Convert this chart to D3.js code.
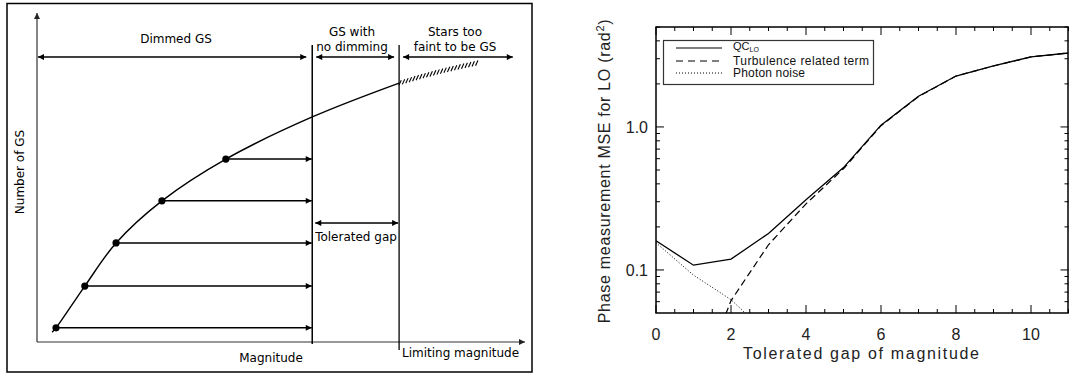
<!DOCTYPE html>
<html><head><meta charset="utf-8">
<script src="https://cdn.jsdelivr.net/npm/d3@7"></script>
<style>html,body{margin:0;padding:0;background:#fff;} svg{display:block;}</style>
</head><body>
<svg id="c" width="1069" height="374"></svg>
<script>
// ---------- Left schematic data (arbitrary units) ----------
const curveMag   = [3.1, 3.9, 9.8, 16.2, 25.6, 38.7, 56.4, 74.2];
const curveNum   = [3.0, 4.3, 17.0, 30.1, 42.9, 55.6, 68.4, 78.7];
const faintMag   = [74.2, 82, 90.2];
const faintNum   = [78.7, 82.0, 84.8];
const dotMag     = [3.9, 9.8, 16.2, 25.6, 38.7];
const dotNum     = [4.3, 17.0, 30.1, 42.9, 55.6];
const dimLimit   = 56.4;   // end of dimmed GS region
const limitMag   = 74.2;   // limiting magnitude
const regionLevel = 86.6;
const gapLevel    = 36.2;

// ---------- Right chart data ----------
const gapValues   = [0, 1, 2, 3, 4, 5, 6, 7, 8, 9, 10, 11];
const qcLO        = [0.16, 0.108, 0.119, 0.18, 0.31, 0.52, 1.03, 1.64, 2.27, 2.67, 3.09, 3.29];
const turbulence  = [0.003, 0.013, 0.061, 0.15, 0.29, 0.51, 1.02, 1.63, 2.27, 2.67, 3.09, 3.29];
const photonNoise = [0.155, 0.092, 0.062, 0.035, 0.02, 0.011, 0.006, 0.0035, 0.002, 0.0012, 0.0007, 0.0004];
const xTickLabels = ["0", "2", "4", "6", "8", "10"];
const yTickLabels = ["0.1", "1.0"];
const seriesNames = ["QC", "Turbulence related term", "Photon noise"];

const svg = d3.select("#c");
svg.append("rect").attr("width",1069).attr("height",374).attr("fill","#fff");
const defs = svg.append("defs");
defs.append("marker").attr("id","ah").attr("viewBox","0 0 10 10").attr("refX",10).attr("refY",5)
  .attr("markerWidth",7).attr("markerHeight",6).attr("markerUnits","userSpaceOnUse").attr("orient","auto-start-reverse")
  .append("path").attr("d","M0,0L10,5L0,10z").attr("fill","#000");
defs.append("marker").attr("id","ahg").attr("viewBox","0 0 10 10").attr("refX",10).attr("refY",5)
  .attr("markerWidth",7).attr("markerHeight",6).attr("markerUnits","userSpaceOnUse").attr("orient","auto-start-reverse")
  .append("path").attr("d","M0,0L10,5L0,10z").attr("fill","#222");

// ================= LEFT PANEL =================
const L = svg.append("g");
const fontL = "'DejaVu Sans', sans-serif";
L.append("rect").attr("x",7).attr("y",3.5).attr("width",525).attr("height",368.5)
  .attr("fill","none").attr("stroke","#000").attr("stroke-width",1.5);
const xL = d3.scaleLinear().domain([0,100]).range([37,525]);
const yL = d3.scaleLinear().domain([0,100]).range([342,13]);

// axes
L.append("line").attr("x1",xL(0)).attr("x2",xL(100)).attr("y1",yL(0)).attr("y2",yL(0))
  .attr("stroke","#333").attr("stroke-width",1.2).attr("marker-end","url(#ahg)");
L.append("line").attr("x1",xL(0)).attr("x2",xL(0)).attr("y1",yL(0)).attr("y2",yL(100))
  .attr("stroke","#333").attr("stroke-width",1.2).attr("marker-end","url(#ahg)");

// vertical region lines
L.append("line").attr("x1",xL(dimLimit)).attr("x2",xL(dimLimit)).attr("y1",45).attr("y2",344)
  .attr("stroke","#000").attr("stroke-width",1.5);
L.append("line").attr("x1",xL(limitMag)).attr("x2",xL(limitMag)).attr("y1",45).attr("y2",350)
  .attr("stroke","#000").attr("stroke-width",1.3);

// region double arrows
function dbl(x1,x2,y){
  L.append("line").attr("x1",x1).attr("x2",x2).attr("y1",y).attr("y2",y)
   .attr("stroke","#000").attr("stroke-width",1.5)
   .attr("marker-start","url(#ah)").attr("marker-end","url(#ah)");
}
dbl(xL(0)+1, xL(dimLimit)-6, yL(regionLevel));
dbl(xL(dimLimit)+4, xL(limitMag)-5, yL(regionLevel));
dbl(xL(limitMag)+4, xL(97.5), yL(regionLevel));
dbl(xL(dimLimit)+3, xL(limitMag)-1, yL(gapLevel));

// curve
const curvePts = curveMag.map((m,i)=>[xL(m), yL(curveNum[i])]);
L.append("path").attr("d", d3.line().curve(d3.curveCatmullRom.alpha(0.5))(curvePts))
  .attr("fill","none").attr("stroke","#000").attr("stroke-width",1.4);
// faint (hatched) part
const faintPath = L.append("path").attr("d", d3.line().curve(d3.curveMonotoneX)(faintMag.map((m,i)=>[xL(m), yL(faintNum[i])])))
  .attr("fill","none").attr("stroke","none");
const fp = faintPath.node(), flen = fp.getTotalLength();
for (let s=1; s<flen; s+=3.6){
  const p = fp.getPointAtLength(s);
  L.append("line").attr("x1",p.x-1.2).attr("y1",p.y+2.6).attr("x2",p.x+1.2).attr("y2",p.y-2.6)
   .attr("stroke","#000").attr("stroke-width",1.1);
}

// horizontal arrows and dots
dotMag.forEach((m,i)=>{
  L.append("line").attr("x1",xL(m)).attr("x2",xL(dimLimit)-0.5).attr("y1",yL(dotNum[i])).attr("y2",yL(dotNum[i]))
   .attr("stroke","#000").attr("stroke-width",1.5).attr("marker-end","url(#ah)");
  L.append("circle").attr("cx",xL(m)).attr("cy",yL(dotNum[i])).attr("r",3.6).attr("fill","#000");
});

// texts
function tL(txt,x,y,anchor){ return L.append("text").attr("x",x).attr("y",y).attr("text-anchor",anchor||"middle")
  .attr("font-family",fontL).attr("font-size",12).attr("fill","#000").text(txt); }
tL("Dimmed GS",176,43);
tL("GS with",352,36);
tL("no dimming",352,51);
tL("Stars too",455,36);
tL("faint to be GS",455,51);
tL("Tolerated gap",356,241);
tL("Magnitude",271,362);
tL("Limiting magnitude",402,357,"start");
L.append("text").attr("transform","translate(24,172) rotate(-90)").attr("text-anchor","middle")
  .attr("font-family",fontL).attr("font-size",12).text("Number of GS");

// ================= RIGHT PANEL =================
const R = svg.append("g");
const fontR = "'Liberation Sans', Arial, sans-serif";
const x = d3.scaleLinear().domain([0,11]).range([656,1068.5]);
const y = d3.scaleLog().domain([0.05,5]).range([313,27]);
const x0=x(0), x1=x(11), yT=y(5), yB=y(0.05);

defs.append("clipPath").attr("id","pc").append("rect").attr("x",x0).attr("y",yT).attr("width",x1-x0).attr("height",yB-yT);

// ticks
const xMajor = d3.range(0, 11.01, 2), xMinor = d3.range(0, 11.01, 0.5);
xMinor.forEach(v=>{
  const len = (Math.abs(v % 2) < 1e-9) ? 8 : 4;
  R.append("line").attr("x1",x(v)).attr("x2",x(v)).attr("y1",yB).attr("y2",yB-len).attr("stroke","#000").attr("stroke-width",1);
  R.append("line").attr("x1",x(v)).attr("x2",x(v)).attr("y1",yT).attr("y2",yT+len).attr("stroke","#000").attr("stroke-width",1);
});
const yTicks = [0.06,0.07,0.08,0.09,0.1,0.2,0.3,0.4,0.5,0.6,0.7,0.8,0.9,1,2,3,4,5];
yTicks.forEach(v=>{
  const major = (v===0.1||v===1);
  const len = major ? 8 : 4;
  R.append("line").attr("x1",x0).attr("x2",x0+len).attr("y1",y(v)).attr("y2",y(v)).attr("stroke","#000").attr("stroke-width",1);
  R.append("line").attr("x1",x1).attr("x2",x1-len).attr("y1",y(v)).attr("y2",y(v)).attr("stroke","#000").attr("stroke-width",1);
});

// tick labels
xMajor.forEach((v,i)=>{
  R.append("text").attr("x",x(v)).attr("y",340).attr("text-anchor","middle")
   .attr("font-family",fontR).attr("font-size",16).attr("fill","#222").text(xTickLabels[i]);
});
[0.1,1].forEach((v,i)=>{
  R.append("text").attr("x",648).attr("y",y(v)+6).attr("text-anchor","end")
   .attr("font-family",fontR).attr("font-size",16).attr("fill","#222").text(yTickLabels[i]);
});

// axis titles
R.append("text").attr("x",861).attr("y",359).attr("text-anchor","middle")
  .attr("font-family",fontR).attr("font-size",16).attr("fill","#222")
  .attr("textLength",236).attr("lengthAdjust","spacing").text("Tolerated gap of magnitude");
const yl = R.append("text").attr("transform","translate(610,171) rotate(-90)").attr("text-anchor","middle")
  .attr("font-family",fontR).attr("font-size",16).attr("fill","#222").attr("letter-spacing",0.7);
yl.append("tspan").text("Phase measurement MSE for LO (rad");
yl.append("tspan").attr("dy",-6).attr("font-size",11).text("2");
yl.append("tspan").attr("dy",6).text(")");

// series lines
const line = d3.line().x((d,i)=>x(gapValues[i])).y(d=>y(d));
const pg = R.append("g").attr("clip-path","url(#pc)");
pg.append("path").attr("d",line(photonNoise)).attr("fill","none").attr("stroke","#000").attr("stroke-width",1).attr("stroke-dasharray","1,2");
pg.append("path").attr("d",line(turbulence)).attr("fill","none").attr("stroke","#000").attr("stroke-width",1.2).attr("stroke-dasharray","7,4");
pg.append("path").attr("d",line(qcLO)).attr("fill","none").attr("stroke","#000").attr("stroke-width",1.3);

// frame
R.append("rect").attr("x",x0).attr("y",yT).attr("width",x1-x0-0.5).attr("height",yB-yT)
  .attr("fill","none").attr("stroke","#000").attr("stroke-width",1.5);

// legend
const lg = R.append("g");
lg.append("rect").attr("x",663.5).attr("y",40.5).attr("width",210).attr("height",44)
  .attr("fill","#fff").attr("stroke","#333").attr("stroke-width",1.2);
const legY = [48, 61, 73];
const dashes = [null, "7,5", "1,2"];
seriesNames.forEach((n,i)=>{
  lg.append("line").attr("x1",676).attr("x2",722).attr("y1",legY[i]).attr("y2",legY[i])
    .attr("stroke","#000").attr("stroke-width",1.1).attr("stroke-dasharray",dashes[i]);
  const t = lg.append("text").attr("x",733).attr("y",legY[i]+(i===0?2:4)).attr("font-family",fontR)
    .attr("font-size",12).attr("fill","#111");
  if (i===0){
    t.attr("font-size",11);
    t.append("tspan").text("QC");
    t.append("tspan").attr("dy",2).attr("font-size",7).text("LO");
  } else if (i===1) {
    t.attr("textLength",136).attr("lengthAdjust","spacing").text(n);
  } else {
    t.attr("textLength",72).attr("lengthAdjust","spacing").text(n);
  }
});
</script>
</body></html>
